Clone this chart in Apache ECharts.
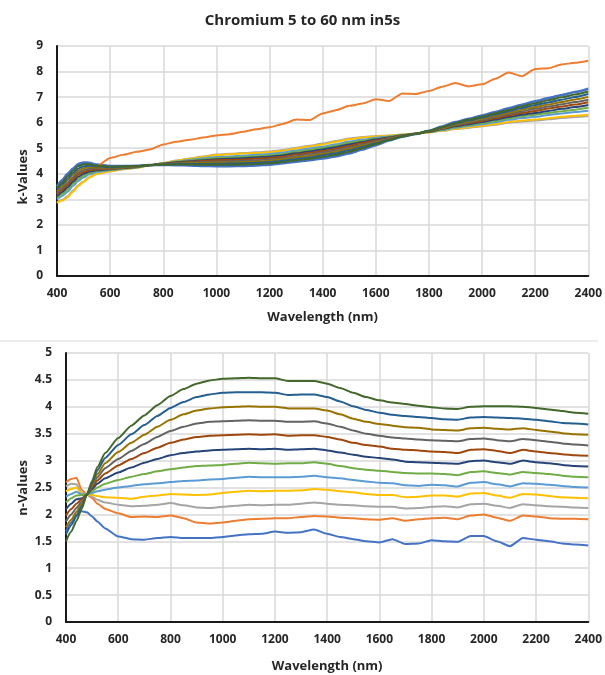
<!DOCTYPE html>
<html>
<head>
<meta charset="utf-8">
<script src="https://cdn.jsdelivr.net/npm/echarts@6/dist/echarts.min.js"></script>
<style>
  html, body { margin: 0; padding: 0; background: #fff; }
  #chart { width: 605px; height: 675px; }
</style>
</head>
<body>
<div id="chart"></div>
<script>
// wavelength samples (nm), shared by every series
const wavelengths = [400, 420, 440, 460, 480, 500, 520, 550, 600, 650, 700, 750, 800, 850, 900, 950, 1000, 1050, 1100, 1150,
  1200, 1250, 1300, 1350, 1400, 1450, 1500, 1550, 1600, 1650, 1700, 1750, 1800, 1850, 1900, 1950, 2000, 2050, 2100, 2150,
  2200, 2250, 2300, 2350, 2400];

const thickness = ['5 nm', '10 nm', '15 nm', '20 nm', '25 nm', '30 nm', '35 nm', '40 nm', '45 nm', '50 nm', '55 nm', '60 nm'];
const colors = ['#4472C4', '#ED7D31', '#A5A5A5', '#FFC000', '#5B9BD5', '#70AD47', '#264478', '#9E480E', '#636363', '#997300', '#255E91', '#43682B'];

const xTicks = { min: 400, max: 2400, step: 200 };
const kTicks = { min: 0, max: 9, step: 1 };
const nTicks = { min: 0, max: 5, step: 0.5 };

// k-values (extinction coefficient)
const k05 = [3.50, 3.75, 4.00, 4.20, 4.38, 4.44, 4.43, 4.36, 4.30, 4.30, 4.31, 4.34, 4.35, 4.34, 4.33, 4.31, 4.30, 4.30, 4.31, 4.33, 4.36, 4.41, 4.47, 4.53, 4.60, 4.68, 4.80, 4.95, 5.12, 5.30, 5.45, 5.56, 5.68, 5.85, 6.02, 6.15, 6.28, 6.42, 6.56, 6.70, 6.84, 6.96, 7.08, 7.20, 7.33];
const k10 = [3.19, 3.37, 3.56, 3.78, 3.97, 4.07, 4.14, 4.30, 4.62, 4.74, 4.86, 4.95, 5.15, 5.25, 5.33, 5.42, 5.50, 5.55, 5.64, 5.74, 5.82, 5.95, 6.12, 6.10, 6.36, 6.49, 6.66, 6.75, 6.92, 6.85, 7.14, 7.12, 7.24, 7.41, 7.55, 7.42, 7.50, 7.72, 7.96, 7.82, 8.10, 8.13, 8.28, 8.34, 8.42];
const k15 = [2.88, 2.98, 3.12, 3.35, 3.55, 3.70, 3.85, 4.00, 4.10, 4.18, 4.24, 4.33, 4.42, 4.52, 4.60, 4.68, 4.75, 4.78, 4.81, 4.84, 4.87, 4.93, 5.02, 5.10, 5.18, 5.28, 5.38, 5.44, 5.48, 5.50, 5.54, 5.58, 5.62, 5.68, 5.75, 5.80, 5.86, 5.92, 6.00, 6.05, 6.08, 6.13, 6.18, 6.22, 6.26];
const k20 = [2.86, 2.95, 3.08, 3.30, 3.52, 3.68, 3.84, 3.99, 4.10, 4.18, 4.24, 4.33, 4.42, 4.51, 4.59, 4.66, 4.73, 4.76, 4.79, 4.81, 4.84, 4.90, 4.99, 5.07, 5.15, 5.25, 5.35, 5.42, 5.46, 5.49, 5.54, 5.58, 5.62, 5.69, 5.76, 5.82, 5.88, 5.95, 6.03, 6.08, 6.12, 6.17, 6.23, 6.27, 6.31];
const k25 = [3.00, 3.13, 3.30, 3.52, 3.72, 3.85, 3.97, 4.07, 4.14, 4.20, 4.25, 4.33, 4.41, 4.48, 4.55, 4.61, 4.66, 4.68, 4.71, 4.74, 4.77, 4.83, 4.91, 4.99, 5.06, 5.16, 5.26, 5.34, 5.41, 5.46, 5.52, 5.58, 5.63, 5.71, 5.80, 5.87, 5.94, 6.02, 6.11, 6.18, 6.23, 6.30, 6.36, 6.42, 6.47];
const k30 = [3.07, 3.21, 3.38, 3.61, 3.80, 3.92, 4.02, 4.11, 4.16, 4.22, 4.26, 4.33, 4.40, 4.47, 4.52, 4.57, 4.62, 4.64, 4.66, 4.69, 4.72, 4.77, 4.86, 4.93, 5.01, 5.10, 5.21, 5.29, 5.37, 5.44, 5.51, 5.57, 5.64, 5.73, 5.83, 5.91, 5.99, 6.07, 6.17, 6.25, 6.31, 6.38, 6.45, 6.51, 6.58];
const k35 = [3.13, 3.29, 3.47, 3.69, 3.88, 4.00, 4.08, 4.14, 4.18, 4.23, 4.27, 4.33, 4.39, 4.45, 4.49, 4.53, 4.57, 4.59, 4.61, 4.64, 4.67, 4.72, 4.80, 4.87, 4.95, 5.04, 5.15, 5.24, 5.34, 5.42, 5.50, 5.57, 5.64, 5.75, 5.86, 5.94, 6.03, 6.12, 6.22, 6.31, 6.38, 6.46, 6.54, 6.61, 6.69];
const k40 = [3.19, 3.37, 3.56, 3.78, 3.97, 4.07, 4.14, 4.18, 4.20, 4.24, 4.28, 4.34, 4.39, 4.43, 4.47, 4.50, 4.53, 4.54, 4.56, 4.59, 4.62, 4.67, 4.75, 4.82, 4.89, 4.98, 5.09, 5.20, 5.30, 5.40, 5.50, 5.57, 5.65, 5.77, 5.89, 5.98, 6.07, 6.17, 6.28, 6.38, 6.46, 6.55, 6.63, 6.71, 6.80];
const k45 = [3.25, 3.44, 3.65, 3.86, 4.05, 4.14, 4.20, 4.22, 4.22, 4.25, 4.28, 4.34, 4.38, 4.41, 4.44, 4.46, 4.48, 4.49, 4.51, 4.53, 4.56, 4.62, 4.69, 4.76, 4.83, 4.92, 5.03, 5.15, 5.26, 5.38, 5.49, 5.57, 5.66, 5.78, 5.91, 6.01, 6.11, 6.22, 6.34, 6.44, 6.54, 6.63, 6.72, 6.81, 6.90];
const k50 = [3.31, 3.52, 3.74, 3.95, 4.13, 4.22, 4.26, 4.25, 4.24, 4.26, 4.29, 4.34, 4.37, 4.39, 4.41, 4.42, 4.44, 4.44, 4.46, 4.48, 4.51, 4.57, 4.64, 4.70, 4.77, 4.86, 4.97, 5.10, 5.23, 5.36, 5.48, 5.57, 5.66, 5.80, 5.94, 6.05, 6.15, 6.27, 6.39, 6.51, 6.61, 6.71, 6.81, 6.91, 7.01];
const k55 = [3.38, 3.60, 3.82, 4.03, 4.21, 4.29, 4.31, 4.29, 4.26, 4.28, 4.30, 4.34, 4.36, 4.38, 4.38, 4.38, 4.39, 4.40, 4.41, 4.43, 4.46, 4.51, 4.58, 4.64, 4.72, 4.80, 4.92, 5.05, 5.19, 5.34, 5.47, 5.56, 5.67, 5.82, 5.97, 6.08, 6.20, 6.32, 6.45, 6.57, 6.69, 6.79, 6.90, 7.00, 7.12];
const k60 = [3.44, 3.67, 3.91, 4.12, 4.30, 4.37, 4.37, 4.32, 4.28, 4.29, 4.30, 4.34, 4.36, 4.36, 4.36, 4.35, 4.35, 4.35, 4.36, 4.38, 4.41, 4.46, 4.53, 4.59, 4.66, 4.74, 4.86, 5.00, 5.16, 5.32, 5.46, 5.56, 5.67, 5.83, 5.99, 6.12, 6.24, 6.37, 6.50, 6.64, 6.76, 6.88, 6.99, 7.10, 7.22];

// n-values (refractive index)
const n05 = [1.68, 1.85, 2.00, 2.06, 2.04, 1.96, 1.87, 1.74, 1.59, 1.54, 1.53, 1.56, 1.58, 1.56, 1.56, 1.56, 1.58, 1.61, 1.63, 1.64, 1.68, 1.66, 1.67, 1.72, 1.64, 1.58, 1.54, 1.50, 1.48, 1.54, 1.45, 1.46, 1.52, 1.50, 1.49, 1.60, 1.60, 1.50, 1.41, 1.56, 1.53, 1.50, 1.46, 1.44, 1.42];
const n10 = [2.60, 2.66, 2.68, 2.46, 2.37, 2.30, 2.20, 2.10, 2.02, 1.95, 1.96, 1.95, 1.98, 1.93, 1.85, 1.83, 1.85, 1.88, 1.91, 1.92, 1.93, 1.93, 1.95, 1.97, 1.96, 1.94, 1.93, 1.91, 1.90, 1.93, 1.88, 1.91, 1.93, 1.94, 1.91, 1.98, 2.00, 1.94, 1.88, 1.98, 1.96, 1.93, 1.92, 1.92, 1.91];
const n15 = [2.52, 2.57, 2.56, 2.40, 2.37, 2.33, 2.27, 2.22, 2.18, 2.15, 2.16, 2.18, 2.21, 2.17, 2.13, 2.12, 2.14, 2.16, 2.18, 2.17, 2.18, 2.18, 2.20, 2.22, 2.20, 2.18, 2.17, 2.15, 2.14, 2.14, 2.11, 2.12, 2.14, 2.15, 2.13, 2.19, 2.20, 2.16, 2.12, 2.19, 2.17, 2.15, 2.14, 2.13, 2.12];
const n20 = [2.43, 2.47, 2.50, 2.38, 2.37, 2.36, 2.34, 2.32, 2.31, 2.29, 2.33, 2.35, 2.38, 2.37, 2.36, 2.37, 2.40, 2.42, 2.44, 2.43, 2.44, 2.44, 2.45, 2.47, 2.46, 2.43, 2.41, 2.38, 2.36, 2.36, 2.32, 2.33, 2.35, 2.35, 2.33, 2.39, 2.40, 2.35, 2.31, 2.38, 2.37, 2.34, 2.32, 2.31, 2.30];
const n25 = [2.33, 2.38, 2.42, 2.37, 2.37, 2.40, 2.43, 2.46, 2.50, 2.53, 2.56, 2.58, 2.60, 2.62, 2.63, 2.65, 2.66, 2.68, 2.70, 2.69, 2.69, 2.69, 2.70, 2.72, 2.69, 2.67, 2.64, 2.61, 2.59, 2.58, 2.54, 2.53, 2.55, 2.54, 2.52, 2.59, 2.60, 2.56, 2.52, 2.58, 2.57, 2.55, 2.53, 2.51, 2.50];
const n30 = [2.22, 2.30, 2.35, 2.36, 2.37, 2.43, 2.50, 2.57, 2.64, 2.70, 2.75, 2.80, 2.84, 2.87, 2.90, 2.91, 2.92, 2.94, 2.96, 2.95, 2.94, 2.95, 2.95, 2.97, 2.94, 2.90, 2.86, 2.83, 2.81, 2.79, 2.77, 2.76, 2.76, 2.75, 2.73, 2.79, 2.80, 2.77, 2.74, 2.79, 2.77, 2.75, 2.72, 2.70, 2.69];
const n35 = [2.10, 2.20, 2.28, 2.30, 2.37, 2.47, 2.57, 2.67, 2.78, 2.87, 2.96, 3.03, 3.10, 3.14, 3.17, 3.19, 3.20, 3.21, 3.22, 3.21, 3.22, 3.20, 3.21, 3.22, 3.19, 3.15, 3.11, 3.07, 3.05, 3.02, 2.98, 2.97, 2.96, 2.95, 2.94, 2.99, 3.00, 2.97, 2.94, 3.00, 2.97, 2.95, 2.92, 2.90, 2.89];
const n40 = [1.98, 2.10, 2.20, 2.28, 2.37, 2.50, 2.63, 2.76, 2.91, 3.03, 3.14, 3.24, 3.33, 3.39, 3.44, 3.46, 3.47, 3.48, 3.49, 3.48, 3.49, 3.46, 3.47, 3.47, 3.44, 3.39, 3.33, 3.29, 3.26, 3.22, 3.20, 3.19, 3.17, 3.16, 3.14, 3.20, 3.21, 3.18, 3.14, 3.20, 3.17, 3.14, 3.12, 3.10, 3.09];
const n45 = [1.87, 2.00, 2.12, 2.24, 2.37, 2.53, 2.69, 2.86, 3.03, 3.18, 3.31, 3.44, 3.55, 3.63, 3.69, 3.72, 3.73, 3.74, 3.75, 3.74, 3.74, 3.72, 3.72, 3.73, 3.69, 3.63, 3.56, 3.50, 3.46, 3.43, 3.41, 3.39, 3.38, 3.37, 3.36, 3.40, 3.41, 3.38, 3.36, 3.40, 3.38, 3.35, 3.32, 3.30, 3.28];
const n50 = [1.76, 1.90, 2.05, 2.20, 2.37, 2.56, 2.75, 2.95, 3.16, 3.33, 3.48, 3.63, 3.76, 3.86, 3.93, 3.97, 3.99, 4.00, 4.01, 4.00, 4.00, 3.97, 3.97, 3.97, 3.93, 3.86, 3.78, 3.72, 3.68, 3.65, 3.62, 3.61, 3.58, 3.57, 3.56, 3.60, 3.61, 3.59, 3.58, 3.60, 3.57, 3.54, 3.51, 3.49, 3.48];
const n55 = [1.63, 1.80, 1.97, 2.15, 2.37, 2.59, 2.82, 3.05, 3.29, 3.49, 3.66, 3.83, 3.98, 4.09, 4.18, 4.23, 4.26, 4.27, 4.27, 4.27, 4.26, 4.22, 4.23, 4.23, 4.18, 4.10, 4.01, 3.94, 3.89, 3.85, 3.83, 3.81, 3.79, 3.77, 3.76, 3.80, 3.81, 3.80, 3.79, 3.78, 3.76, 3.73, 3.70, 3.69, 3.67];
const n60 = [1.50, 1.68, 1.88, 2.10, 2.37, 2.62, 2.88, 3.14, 3.42, 3.65, 3.84, 4.03, 4.20, 4.33, 4.43, 4.49, 4.52, 4.53, 4.54, 4.53, 4.53, 4.48, 4.48, 4.48, 4.43, 4.35, 4.26, 4.18, 4.12, 4.08, 4.05, 4.02, 3.99, 3.97, 3.96, 4.00, 4.01, 4.01, 4.01, 4.00, 3.98, 3.95, 3.92, 3.89, 3.87];

const kSeries = [k05, k10, k15, k20, k25, k30, k35, k40, k45, k50, k55, k60];
const nSeries = [n05, n10, n15, n20, n25, n30, n35, n40, n45, n50, n55, n60];

const FONT = '"Open Sans", "Noto Sans", sans-serif';
const labelStyle = { color: '#262626', fontWeight: 'bold', fontSize: 12, fontFamily: FONT };
const gridLine = { show: true, lineStyle: { color: '#d9d9d9', width: 1.5 } };
const darkAxis = { show: true, onZero: false, lineStyle: { color: '#1a1a1a', width: 2 } };

function xAxisFor(gridIndex, gap) {
  return {
    type: 'value', gridIndex: gridIndex,
    min: xTicks.min, max: xTicks.max, interval: xTicks.step,
    name: 'Wavelength (nm)', nameLocation: 'middle', nameGap: gap,
    nameTextStyle: { color: '#262626', fontWeight: 'bold', fontSize: 13, fontFamily: FONT },
    axisLine: darkAxis, axisTick: { show: false },
    axisLabel: Object.assign({ margin: 12, formatter: function (v) { return String(v); } }, labelStyle),
    splitLine: gridLine
  };
}
function yAxisFor(gridIndex, ticks) {
  return {
    type: 'value', gridIndex: gridIndex,
    min: ticks.min, max: ticks.max, interval: ticks.step,
    axisLine: darkAxis, axisTick: { show: false },
    axisLabel: Object.assign({ margin: 14 }, labelStyle),
    splitLine: gridLine
  };
}
// one line series per thickness
function lines(list, axisIndex, firstWidth) {
  return list.map(function (vals, i) {
    return {
      name: thickness[i], type: 'line',
      xAxisIndex: axisIndex, yAxisIndex: axisIndex,
      symbol: 'none', smooth: 0.2, smoothMonotone: 'x',
      data: vals.map(function (v, j) { return [wavelengths[j], v]; }),
      lineStyle: { color: colors[i], width: i === 0 ? firstWidth : 2 },
      itemStyle: { color: colors[i] }
    };
  });
}

const chart = echarts.init(document.getElementById('chart'));
chart.setOption({
  animation: false,
  backgroundColor: '#fff',
  title: {
    text: 'Chromium 5 to 60 nm in5s', left: 'center', top: 8,
    textStyle: { color: '#262626', fontWeight: 'bold', fontSize: 15, fontFamily: FONT }
  },
  grid: [
    { left: 57, top: 46, width: 535, height: 230 },
    { left: 66, top: 353, width: 526, height: 269 }
  ],
  xAxis: [xAxisFor(0, 35), xAxisFor(1, 38)],
  yAxis: [yAxisFor(0, kTicks), yAxisFor(1, nTicks)],
  graphic: [
    { type: 'line', shape: { x1: 0, y1: 341, x2: 598, y2: 341 }, style: { stroke: '#d9d9d9', lineWidth: 1 } },
    { type: 'text', x: 23, y: 177, rotation: Math.PI / 2,
      style: { text: 'k-Values', fill: '#262626', font: 'bold 13px ' + FONT, textAlign: 'center', textVerticalAlign: 'middle' } },
    { type: 'text', x: 23, y: 488, rotation: Math.PI / 2,
      style: { text: 'n-Values', fill: '#262626', font: 'bold 13px ' + FONT, textAlign: 'center', textVerticalAlign: 'middle' } }
  ],
  series: lines(kSeries, 0, 2.6).concat(lines(nSeries, 1, 2))
});
</script>
</body>
</html>
